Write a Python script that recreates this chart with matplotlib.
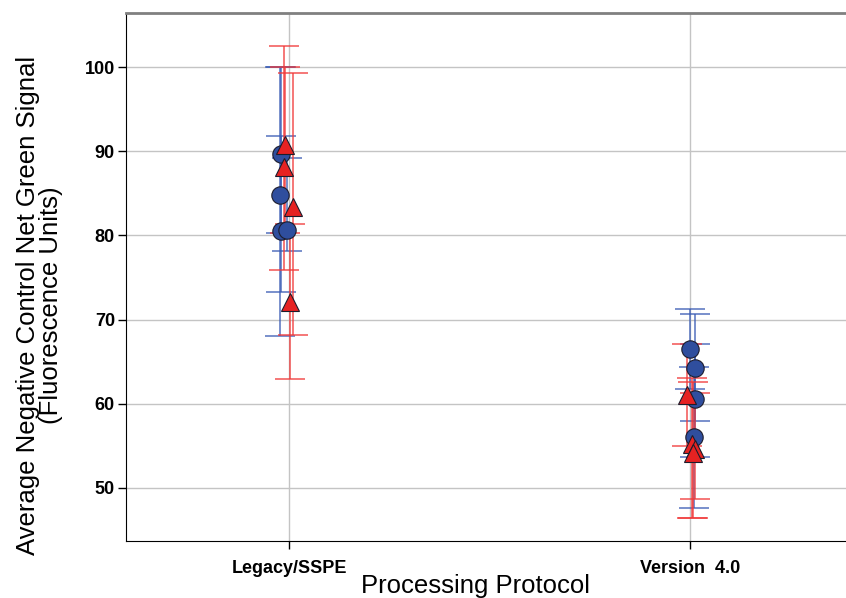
import numpy as np
import matplotlib
matplotlib.use("Agg")
import matplotlib.pyplot as plt

plt.rcParams['font.family'] = ['Liberation Sans', 'DejaVu Sans']

protocols = ["Legacy/SSPE", "Version  4.0"]

# blue circles: mean signal with low/high bounds of the error bars
blue_group = [0, 0, 0, 0, 1, 1, 1, 1]
blue_mean = [89.7, 84.8, 80.5, 80.7, 66.5, 64.2, 60.6, 56.0]
blue_lo = [80.3, 68.1, 73.3, 78.1, 61.7, 58.0, 53.7, 47.6]
blue_hi = [100.0, 100.0, 91.8, 89.2, 71.3, 70.7, 67.1, 64.4]

# red triangles
red_group = [0, 0, 0, 0, 1, 1, 1, 1]
red_mean = [90.7, 88.1, 83.4, 72.1, 61.0, 55.2, 54.6, 54.2]
red_lo = [80.3, 75.9, 68.2, 62.9, 55.0, 46.4, 48.7, 46.4]
red_hi = [100.0, 102.5, 99.3, 81.3, 67.1, 63.1, 61.3, 62.6]

# small horizontal jitter so overlapping runs stay visible
blue_shift = np.array([-0.02, -0.022, -0.02, -0.005, 0.0, 0.014, 0.014, 0.01])
red_shift = np.array([-0.01, -0.012, 0.01, 0.003, -0.007, 0.005, 0.013, 0.008])

fig = plt.figure(figsize=(8.46, 5.98), dpi=100)
ax = fig.add_axes([0.149, 0.0953, 0.851, 0.8827])

def draw(group, mean, lo, hi, shift, face, bar, marker, size):
    x = np.array(group) + 1 + shift
    mean = np.array(mean)
    err = [mean - np.array(lo), np.array(hi) - mean]
    ax.errorbar(x, mean, yerr=err, fmt='none', ecolor=bar, elinewidth=1.2,
                capsize=11, capthick=1.2, alpha=0.8, zorder=3)
    ax.plot(x, mean, linestyle='none', marker=marker, markersize=size,
            markerfacecolor=face, markeredgecolor='#1c1c2c',
            markeredgewidth=0.8, zorder=4)

draw(blue_group, blue_mean, blue_lo, blue_hi, blue_shift,
     '#2f4e9e', '#3a5cb4', 'o', 12.5)
draw(red_group, red_mean, red_lo, red_hi, red_shift,
     '#e62222', '#f03838', '^', 12.5)

ax.set_xlim(0.593, 2.39)
ax.set_ylim(43.7, 106.4)
ax.set_xticks([1, 2])
ax.set_xticklabels(protocols)
ax.set_yticks([50, 60, 70, 80, 90, 100])

ax.grid(True, color='#c4c4c4', linewidth=1.0, zorder=0)
ax.set_axisbelow(True)

for lab in ax.get_xticklabels() + ax.get_yticklabels():
    lab.set_fontweight('bold')
    lab.set_fontsize(13)
ax.tick_params(axis='both', direction='out', length=6, width=1, color='black')
ax.tick_params(axis='y', pad=2)
ax.tick_params(axis='x', pad=8)

ax.spines['right'].set_visible(False)
ax.spines['top'].set_color('#808080')
ax.spines['top'].set_linewidth(2)
ax.spines['left'].set_color('black')
ax.spines['bottom'].set_color('black')

ax.set_xlabel("Processing Protocol", fontsize=18.5)
ax.xaxis.set_label_coords(0.486, -0.062)
ax.set_ylabel("Average Negative Control Net Green Signal\n(Fluorescence Units)",
              fontsize=18.5, linespacing=0.95)
ax.yaxis.set_label_coords(-0.087, 0.447)

fig.savefig("out.png", dpi=100)
